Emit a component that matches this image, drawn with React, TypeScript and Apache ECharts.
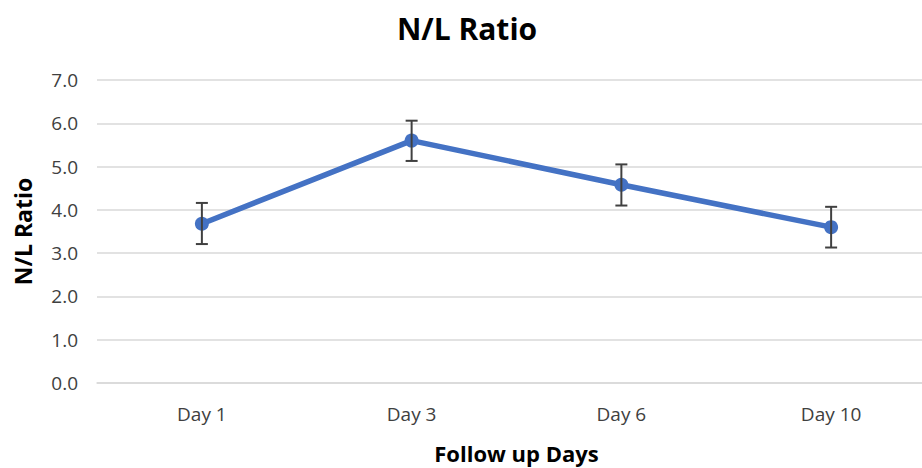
import React, { useEffect, useRef } from "react";
import * as echarts from "echarts";

const categories = ["Day 1", "Day 3", "Day 6", "Day 10"];
const meanValues = [3.68, 5.6, 4.58, 3.6];
const errorLow = [3.21, 5.13, 4.1, 3.13];
const errorHigh = [4.16, 6.06, 5.05, 4.07];
const yTicks = [0, 1, 2, 3, 4, 5, 6, 7];

const FONT = "'Open Sans', sans-serif";

export default function App() {
  const ref = useRef<HTMLDivElement>(null);
  useEffect(() => {
    if (!ref.current) return;
    const chart = echarts.init(ref.current, undefined, { renderer: "svg" });
    const errData = categories.map((_, i) => [i, errorLow[i], errorHigh[i]]);
    chart.setOption({
      animation: false,
      backgroundColor: "#ffffff",
      title: {
        text: "N/L Ratio",
        left: 462,
        textAlign: "center",
        top: 8,
        textStyle: { fontFamily: FONT, fontSize: 30, fontWeight: "bold", color: "#000000" },
      },
      grid: {
        left: 97,
        width: 839,
        top: 80,
        height: 303,
        containLabel: false,
        outerBoundsMode: "none",
      },
      xAxis: {
        type: "category",
        data: categories,
        boundaryGap: true,
        axisLine: { show: true, lineStyle: { color: "#d9d9d9", width: 1.5 } },
        axisTick: { show: false },
        axisLabel: { fontFamily: FONT, fontSize: 19, color: "#404040", margin: 21 },
        name: "Follow up Days",
        nameLocation: "middle",
        nameGap: 59,
        nameTextStyle: { fontFamily: FONT, fontSize: 22, fontWeight: "bold", color: "#000000" },
      },
      yAxis: {
        type: "value",
        min: yTicks[0],
        max: yTicks[yTicks.length - 1],
        interval: 1,
        axisLine: { show: false },
        axisTick: { show: false },
        splitLine: { lineStyle: { color: "#d9d9d9", width: 1.5 } },
        axisLabel: {
          fontFamily: FONT,
          fontSize: 19,
          color: "#404040",
          margin: 19,
          formatter: (v: number) => v.toFixed(1),
        },
        name: "N/L Ratio",
        nameLocation: "middle",
        nameGap: 63,
        nameTextStyle: { fontFamily: FONT, fontSize: 23, fontWeight: "bold", color: "#000000" },
      },
      series: [
        {
          type: "line",
          data: meanValues,
          symbol: "circle",
          symbolSize: 14,
          lineStyle: { color: "#4472C4", width: 5.5 },
          itemStyle: { color: "#4472C4" },
          z: 2,
        },
        {
          type: "custom",
          data: errData,
          z: 3,
          renderItem: (params: any, api: any) => {
            const x = api.value(0);
            const lo = api.coord([x, api.value(1)]);
            const hi = api.coord([x, api.value(2)]);
            const cap = 6;
            const style = { stroke: "#404040", lineWidth: 2, fill: "none" };
            return {
              type: "group",
              children: [
                { type: "line", shape: { x1: lo[0], y1: lo[1], x2: hi[0], y2: hi[1] }, style },
                { type: "line", shape: { x1: hi[0] - cap, y1: hi[1], x2: hi[0] + cap, y2: hi[1] }, style },
                { type: "line", shape: { x1: lo[0] - cap, y1: lo[1], x2: lo[0] + cap, y2: lo[1] }, style },
              ],
            };
          },
        },
      ],
    });
    return () => chart.dispose();
  }, []);
  return (
    <div
      style={{
        position: "absolute",
        left: 0,
        top: 0,
        width: 922,
        height: 468,
        overflow: "hidden",
        background: "#ffffff",
      }}
    >
      <div ref={ref} style={{ width: 936, height: 468 }} />
    </div>
  );
}
